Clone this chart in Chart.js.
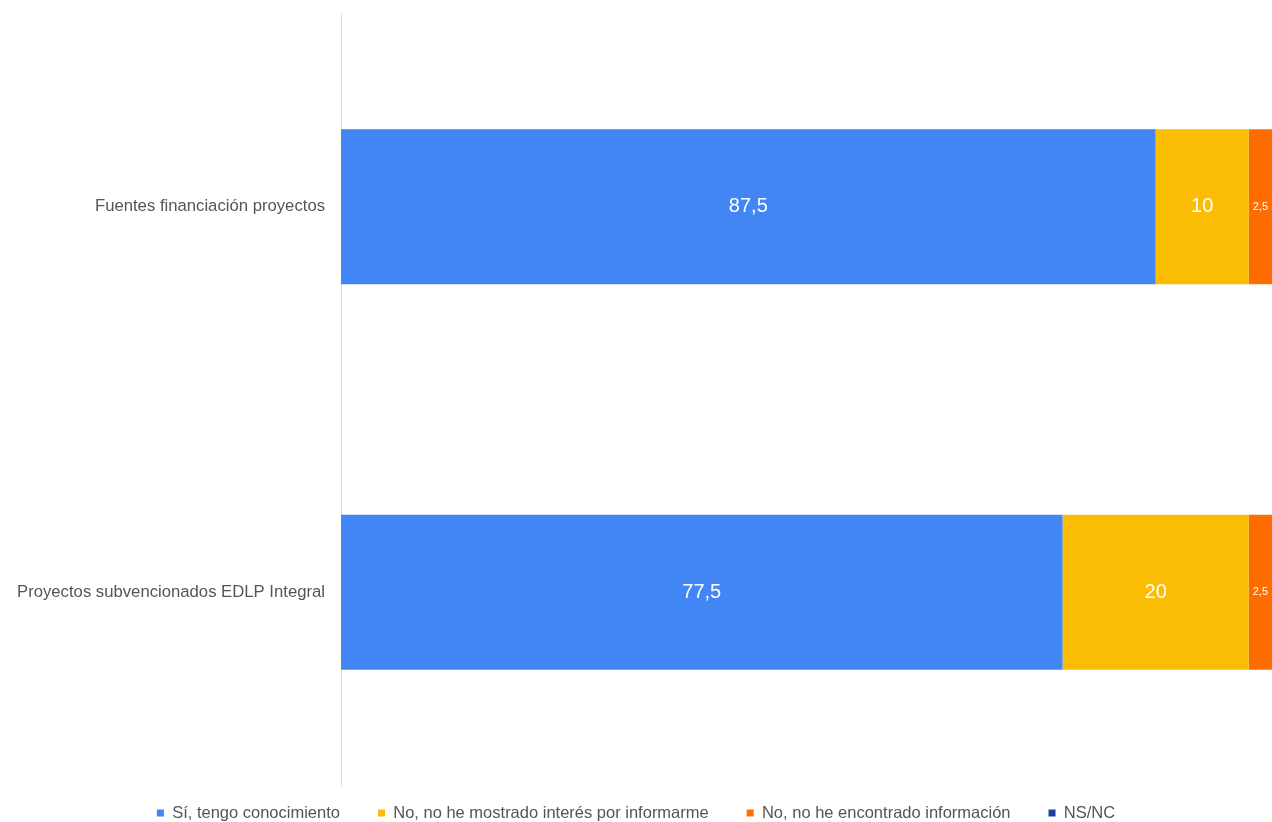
<!DOCTYPE html>
<html>
<head>
<meta charset="utf-8">
<script src="https://cdn.jsdelivr.net/npm/chart.js@4/dist/chart.umd.min.js"></script>
<style>
html,body{margin:0;padding:0;background:#fff;}
#wrap{width:1272px;height:822px;}
</style>
</head>
<body>
<div id="wrap"><canvas id="c" width="1272" height="822"></canvas></div>
<script>
const categories = ["Fuentes financiación proyectos", "Proyectos subvencionados EDLP Integral"];
const seriesNames = ["Sí, tengo conocimiento", "No, no he mostrado interés por informarme", "No, no he encontrado información", "NS/NC"];
const siValues = [87.5, 77.5];
const noInteresValues = [10, 20];
const noInfoValues = [2.5, 2.5];
const nsncValues = [0, 0];
const colors = ["#4285F4", "#FBBC04", "#FF6D01", "#1F3F9F"];

const FONT = "'Liberation Sans', Arial, sans-serif";

const labelPlugin = {
  id: 'barLabels',
  afterDatasetsDraw(chart) {
    const ctx = chart.ctx;
    ctx.save();
    chart.data.datasets.forEach((ds, di) => {
      const meta = chart.getDatasetMeta(di);
      if (meta.hidden) return;
      meta.data.forEach((el, i) => {
        const v = ds.data[i];
        if (!v) return;
        const cx = (el.x + el.base) / 2;
        const size = v < 5 ? 11 : 20;
        ctx.font = size + "px " + FONT;
        ctx.fillStyle = "#ffffff";
        ctx.textAlign = "center";
        ctx.textBaseline = "middle";
        ctx.fillText(String(v).replace('.', ','), cx, el.y);
      });
    });
    ctx.restore();
  }
};

new Chart(document.getElementById('c'), {
  type: 'bar',
  data: {
    labels: categories,
    datasets: [
      { label: seriesNames[0], data: siValues, backgroundColor: colors[0] },
      { label: seriesNames[1], data: noInteresValues, backgroundColor: colors[1] },
      { label: seriesNames[2], data: noInfoValues, backgroundColor: colors[2] },
      { label: seriesNames[3], data: nsncValues, backgroundColor: colors[3] }
    ]
  },
  options: {
    indexAxis: 'y',
    responsive: false,
    animation: false,
    layout: { padding: { top: 14, right: 0, left: 0, bottom: -27.5 } },
    datasets: { bar: { barPercentage: 0.402, categoryPercentage: 1.0, borderWidth: 0 } },
    scales: {
      x: {
        stacked: true, min: 0, max: 100, display: true,
        grid: { display: false, drawTicks: false },
        border: { display: false },
        ticks: { display: false },
        afterFit(scale) { scale.height = -18.25; }
      },
      y: {
        stacked: true,
        grid: { display: false, drawTicks: false },
        border: { display: true, color: '#dddddd', width: 1 },
        ticks: { color: '#555555', font: { family: FONT, size: 16.7 }, padding: 16 },
        afterFit(scale) { scale.width = 341; scale.paddingTop = 0; scale.paddingBottom = 0; }
      }
    },
    plugins: {
      legend: {
        position: 'bottom',
        labels: {
          boxWidth: 7, boxHeight: 7, padding: 38,
          color: '#555555',
          font: { family: FONT, size: 16.5 }
        }
      },
      tooltip: { enabled: false }
    }
  },
  plugins: [labelPlugin]
});
</script>
</body>
</html>
